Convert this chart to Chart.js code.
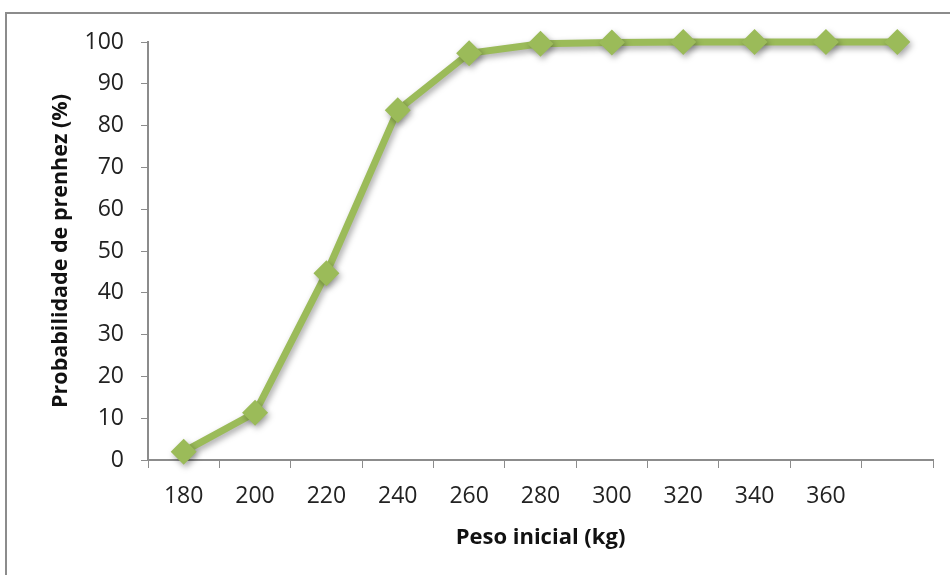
<!DOCTYPE html>
<html>
<head>
<meta charset="utf-8">
<script src="https://cdn.jsdelivr.net/npm/chart.js@4.4.1/dist/chart.umd.min.js"></script>
<style>
  html, body { margin: 0; padding: 0; background: #fff; overflow: hidden; }
  #wrap { position: relative; width: 950px; height: 575px; }
  #frame { position: absolute; left: 5px; top: 12px; width: 1000px; height: 1000px; border: 2px solid #8c8c8c; box-sizing: border-box; }
  canvas { position: absolute; left: 0; top: 0; }
</style>
</head>
<body>
<div id="wrap">
  <div id="frame"></div>
  <canvas id="chart" width="950" height="575"></canvas>
</div>
<script>
// Peso inicial (kg) categories, last one has no printed label
const pesos = ['180', '200', '220', '240', '260', '280', '300', '320', '340', '360', ''];
// Probabilidade de prenhez (%)
const probabilidade = [2, 11.3, 44.7, 83.7, 97.3, 99.6, 99.9, 100, 100, 100, 100];

const green = '#9BBB59';
const axisGray = '#8c8c8c';
const fontFamily = '"Open Sans", "Liberation Sans", sans-serif';

// soft drop shadow under the line, like the spreadsheet original
const shadowPlugin = {
  id: 'shadow',
  beforeDatasetDraw(chart) {
    const ctx = chart.ctx;
    ctx.save();
    ctx.shadowColor = 'rgba(0,0,0,0.35)';
    ctx.shadowBlur = 6;
    ctx.shadowOffsetX = 2;
    ctx.shadowOffsetY = 3;
  },
  afterDatasetDraw(chart) {
    chart.ctx.restore();
  }
};

const ctx = document.getElementById('chart').getContext('2d');
new Chart(ctx, {
  type: 'line',
  data: {
    labels: pesos,
    datasets: [{
      data: probabilidade,
      borderColor: green,
      backgroundColor: green,
      borderWidth: 7,
      pointStyle: 'rectRot',
      pointRadius: 13,
      pointBorderWidth: 0,
      pointBackgroundColor: green,
      tension: 0,
      clip: false
    }]
  },
  options: {
    responsive: false,
    animation: false,
    layout: { padding: { left: 48, top: 42, right: 17, bottom: 24 } },
    plugins: {
      legend: { display: false },
      tooltip: { enabled: false }
    },
    scales: {
      x: {
        offset: true,
        grid: { drawOnChartArea: false, drawTicks: true, tickLength: 8, color: axisGray, offset: true },
        border: { color: axisGray, width: 2 },
        ticks: { color: '#222', font: { family: fontFamily, size: 23 }, padding: 15, maxRotation: 0, autoSkip: false },
        title: { display: true, text: 'Peso inicial (kg)', color: '#111', font: { family: fontFamily, size: 22, weight: 'bold' }, padding: 0 },
        afterFit(scale) { scale.height = 91; }
      },
      y: {
        min: 0,
        max: 100,
        ticks: { stepSize: 10, color: '#222', font: { family: fontFamily, size: 23 }, padding: 17 },
        grid: { drawOnChartArea: false, drawTicks: true, tickLength: 7, color: axisGray },
        border: { color: axisGray, width: 2 },
        title: { display: true, text: 'Probabilidade de prenhez (%)', color: '#111', font: { family: fontFamily, size: 21.5, weight: 'bold' }, padding: 0 },
        afterFit(scale) { scale.width = 100; }
      }
    }
  },
  plugins: [shadowPlugin]
});
</script>
</body>
</html>
